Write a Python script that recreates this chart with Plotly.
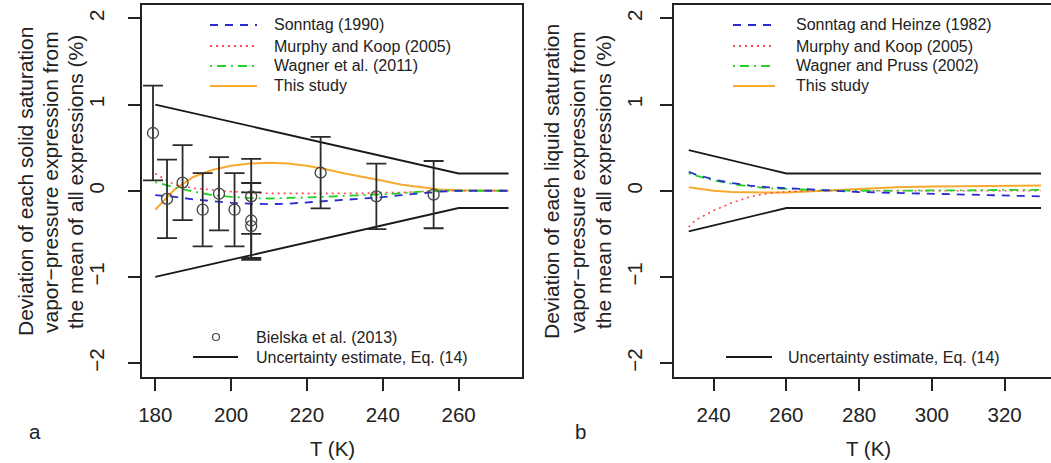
import plotly.graph_objects as go

# ---------------- data: panel a (ice) ----------------
T_ice = [180, 185, 190, 195, 200, 205, 210, 215, 220, 225, 230, 235, 240, 245, 250, 255, 260, 265, 270, 273.15]
sonntag_1990 = [-0.05, -0.07, -0.10, -0.12, -0.14, -0.15, -0.155, -0.15, -0.135, -0.12, -0.105, -0.09, -0.075, -0.05, -0.03, -0.01, 0.0, 0.0, 0.0, 0.0]
murphy_koop_ice = [0.20, 0.07, 0.03, 0.01, -0.01, -0.02, -0.03, -0.03, -0.03, -0.03, -0.03, -0.03, -0.02, -0.02, -0.01, 0.0, 0.0, 0.0, 0.0, 0.0]
wagner_2011 = [0.10, 0.04, -0.01, -0.05, -0.07, -0.085, -0.09, -0.085, -0.075, -0.07, -0.06, -0.05, -0.045, -0.03, -0.01, 0.0, 0.0, 0.0, 0.0, 0.0]
this_study_ice = [-0.22, 0.01, 0.16, 0.24, 0.29, 0.315, 0.325, 0.315, 0.29, 0.25, 0.20, 0.16, 0.115, 0.07, 0.04, 0.015, 0.005, 0.0, 0.0, 0.0]

T_unc_ice = [180, 260, 273.15]
unc_ice_upper = [1.0, 0.2, 0.2]
unc_ice_lower = [-1.0, -0.2, -0.2]

T_bielska = [179.4, 183.1, 187.2, 192.5, 196.8, 200.9, 205.3, 205.3, 205.3, 223.6, 238.3, 253.4]
dev_bielska = [0.67, -0.095, 0.095, -0.22, -0.035, -0.22, -0.065, -0.345, -0.41, 0.21, -0.065, -0.045]
err_bielska = [0.55, 0.455, 0.435, 0.425, 0.425, 0.425, 0.435, 0.435, 0.39, 0.415, 0.38, 0.39]

# ---------------- data: panel b (liquid) ----------------
T_liq = [233.15, 235, 240, 245, 250, 255, 260, 265, 270, 280, 290, 300, 310, 320, 330]
sonntag_heinze_1982 = [0.22, 0.19, 0.13, 0.09, 0.06, 0.04, 0.03, 0.02, 0.01, -0.015, -0.025, -0.035, -0.045, -0.055, -0.065]
murphy_koop_liq = [-0.42, -0.34, -0.23, -0.14, -0.07, -0.03, -0.01, 0.0, 0.0, 0.0, 0.0, 0.0, 0.0, 0.0, 0.0]
wagner_pruss_2002 = [0.20, 0.18, 0.12, 0.08, 0.05, 0.03, 0.02, 0.01, 0.005, 0.0, 0.0, 0.005, 0.005, 0.01, 0.01]
this_study_liq = [0.04, 0.03, 0.0, -0.015, -0.02, -0.02, -0.02, -0.01, 0.0, 0.025, 0.04, 0.05, 0.055, 0.06, 0.06]

T_unc_liq = [233.15, 260, 330]
unc_liq_upper = [0.47, 0.2, 0.2]
unc_liq_lower = [-0.47, -0.2, -0.2]

x_ticks_a = [180, 200, 220, 240, 260]
x_ticks_b = [240, 260, 280, 300, 320]
y_ticks = [-2, -1, 0, 1, 2]

ytitle_a = ["Deviation of each solid saturation", "vapor\u2212pressure expression from", "the mean of all expressions (%)"]
ytitle_b = ["Deviation of each liquid saturation", "vapor\u2212pressure expression from", "the mean of all expressions (%)"]

# ---------------- styles ----------------
W, H = 1051, 463
FONT = "Liberation Sans, Arial, Helvetica, sans-serif"
TXT = "#222222"
BLUE = "#2b2bd0"
RED = "#ff4a4a"
GREEN = "#22d422"
ORANGE = "#f7aa2e"
BLACK = "#1a1a1a"
DASH_B = "8px,7px"
DASH_R = "2px,4px"
DASH_G = "2px,5px,9px,5px"


def px(x):
    return x / W


def py(y):
    return 1 - y / H


fig = go.Figure()


def add_line(x, y, color, dash, width, xa, ya):
    fig.add_trace(go.Scatter(x=x, y=y, mode="lines", xaxis=xa, yaxis=ya,
                             line=dict(color=color, dash=dash, width=width),
                             showlegend=False, hoverinfo="skip"))


# panel a
add_line(T_unc_ice, unc_ice_upper, BLACK, "solid", 1.8, "x", "y")
add_line(T_unc_ice, unc_ice_lower, BLACK, "solid", 1.8, "x", "y")
add_line(T_ice, this_study_ice, ORANGE, "solid", 2, "x", "y")
add_line(T_ice, murphy_koop_ice, RED, DASH_R, 1.6, "x", "y")
add_line(T_ice, wagner_2011, GREEN, DASH_G, 1.8, "x", "y")
add_line(T_ice, sonntag_1990, BLUE, DASH_B, 1.8, "x", "y")
fig.add_trace(go.Scatter(
    x=T_bielska, y=dev_bielska, mode="markers", xaxis="x", yaxis="y",
    marker=dict(symbol="circle-open", size=11, color="#444444", line=dict(width=1.3)),
    error_y=dict(type="data", array=err_bielska, visible=True, color="#2a2a2a", thickness=1.8, width=10),
    showlegend=False, hoverinfo="skip"))

# panel b
add_line(T_unc_liq, unc_liq_upper, BLACK, "solid", 1.8, "x2", "y2")
add_line(T_unc_liq, unc_liq_lower, BLACK, "solid", 1.8, "x2", "y2")
add_line(T_liq, this_study_liq, ORANGE, "solid", 2, "x2", "y2")
add_line(T_liq, murphy_koop_liq, RED, DASH_R, 1.6, "x2", "y2")
add_line(T_liq, wagner_pruss_2002, GREEN, DASH_G, 1.8, "x2", "y2")
add_line(T_liq, sonntag_heinze_1982, BLUE, DASH_B, 1.8, "x2", "y2")

axis_common = dict(showgrid=False, zeroline=False, showline=True, linecolor="#222222", linewidth=1.8,
                   ticks="outside", ticklen=12, tickwidth=1.6, tickcolor="#222222",
                   tickfont=dict(family=FONT, size=20.5, color=TXT), automargin=False)

y_top, y_bot = 4.5, 377
fig.update_layout(
    width=W, height=H, margin=dict(l=0, r=0, t=0, b=0),
    paper_bgcolor="white", plot_bgcolor="white",
    font=dict(family=FONT, color=TXT),
    xaxis=dict(domain=[px(142), px(522)], range=[176.5, 276.7], tickvals=x_ticks_a,
               mirror=True, anchor="y", ticklabelstandoff=6, **axis_common),
    yaxis=dict(domain=[py(y_bot), py(y_top)], range=[-2.16, 2.16], tickvals=y_ticks,
               tickangle=-90, mirror=True, anchor="x", ticklabelstandoff=16, **axis_common),
    xaxis2=dict(domain=[px(674), 1.0], range=[229.1, 332.75], tickvals=x_ticks_b,
                mirror=True, anchor="y2", ticklabelstandoff=6, **axis_common),
    yaxis2=dict(domain=[py(y_bot), py(y_top)], range=[-2.16, 2.16], tickvals=y_ticks,
                tickangle=-90, mirror=False, anchor="x2", ticklabelstandoff=10, **axis_common),
)

shapes = []
annotations = []


def legend_line(x0, x1, y, color, dash, width):
    shapes.append(dict(type="line", xref="paper", yref="paper", x0=px(x0), x1=px(x1), y0=py(y), y1=py(y),
                       line=dict(color=color, dash=dash, width=width)))


def text(x, y, s, size=16, xanchor="left", angle=0):
    annotations.append(dict(x=px(x), y=py(y), xref="paper", yref="paper", text=s, showarrow=False,
                            xanchor=xanchor, yanchor="middle", textangle=angle,
                            font=dict(family=FONT, size=size, color=TXT)))


# legends panel a
rows = [25, 46, 66, 86]
leg_a = [("Sonntag (1990)", BLUE, DASH_B), ("Murphy and Koop (2005)", RED, DASH_R),
         ("Wagner et al. (2011)", GREEN, DASH_G), ("This study", ORANGE, "solid")]
for (lab, c, d), yy in zip(leg_a, rows):
    legend_line(210, 257, yy, c, d, 2)
    text(272, yy, lab)
shapes.append(dict(type="circle", xref="paper", yref="paper", x0=px(212.5), x1=px(219.5), y0=py(340.5), y1=py(333.5),
                   line=dict(color="#444444", width=1.2)))
text(254, 337, "Bielska et al. (2013)")
legend_line(193, 238, 357, BLACK, "solid", 2)
text(254, 357, "Uncertainty estimate, Eq. (14)")

# legends panel b
leg_b = [("Sonntag and Heinze (1982)", BLUE, DASH_B), ("Murphy and Koop (2005)", RED, DASH_R),
         ("Wagner and Pruss (2002)", GREEN, DASH_G), ("This study", ORANGE, "solid")]
for (lab, c, d), yy in zip(leg_b, rows):
    legend_line(733, 775, yy, c, d, 2)
    text(794, yy, lab)
legend_line(726, 772, 357, BLACK, "solid", 2)
text(786, 357, "Uncertainty estimate, Eq. (14)")

# axis titles
text(332, 448, "T (K)", size=20.5, xanchor="center")
text(868, 448, "T (K)", size=20.5, xanchor="center")
for line_txt, xx in zip(ytitle_a, [25, 50, 75]):
    text(xx, 182, line_txt, size=21, xanchor="center", angle=-90)
for line_txt, xx in zip(ytitle_b, [551, 577, 603]):
    text(xx, 182, line_txt, size=21, xanchor="center", angle=-90)
text(35, 431, "a", size=20.5, xanchor="center")
text(580, 431, "b", size=20.5, xanchor="center")

fig.update_layout(shapes=shapes, annotations=annotations)
fig.write_html("out.html", config={"displayModeBar": False},
               post_script="document.body.style.margin='0px';")
